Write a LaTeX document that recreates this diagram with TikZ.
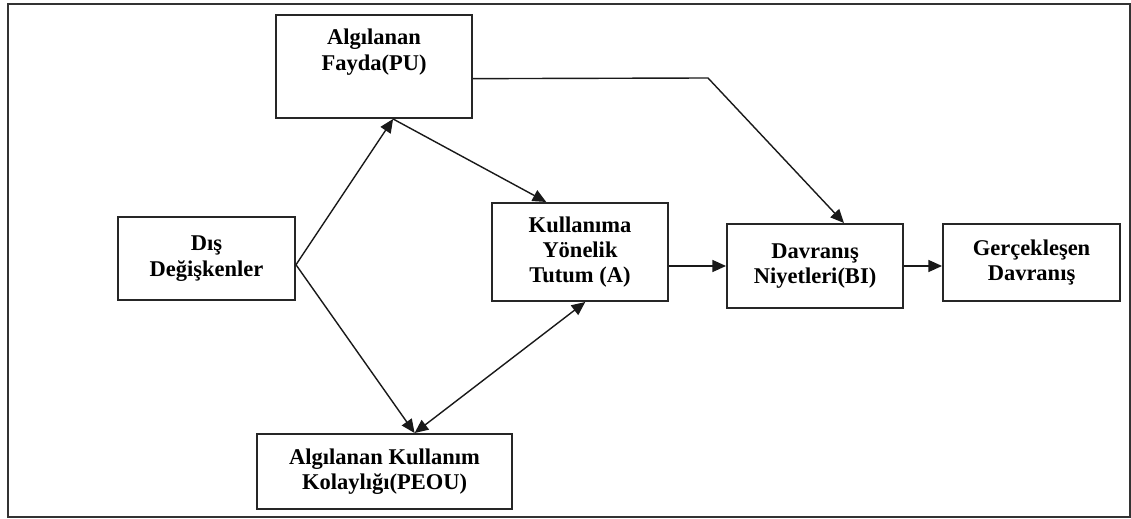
\documentclass[tikz,border=0pt]{standalone}
\usepackage{fontspec}
\setmainfont{Liberation Serif}
\usetikzlibrary{arrows.meta}

\tikzset{
    box/.style = {draw = black!85, line width = 1.4pt, align = center, inner sep = 0pt,
        font = \bfseries\fontsize{16}{18}\selectfont},
    boxtext/.style = {align = center, inner sep = 0pt, font = \bfseries\fontsize{16}{18}\selectfont},
    arr/.style = {line width = 1pt, draw = black!90, -{Triangle[length = 0.34cm, width = 0.3cm]}},
    dblarr/.style = {arr, {Triangle[length = 0.34cm, width = 0.3cm]}-{Triangle[length = 0.34cm, width = 0.3cm]}}
}

\begin{document}
\begin{tikzpicture}[x = 0.025cm, y = 0.025cm]
        \useasboundingbox (0, 0) rectangle (1131, 519);
        \draw[line width = 2.1pt, black!80] (8, 2) rectangle (1130, 515);
        \foreach \x/\y/\w/\h/\nm/\lab in {206.5/260.5/177/83/dis/{Dış\\Değişkenler},
                580/267/176/98/kul/{Kullanıma\\Yönelik\\Tutum (A)},
                815/253/176/84/dav/{Davranış\\Niyetleri(BI)},
                1031.5/256.5/177/77/ger/{Gerçekleşen\\Davranış},
                384.5/47.5/255/75/peou/{Algılanan Kullanım\\Kolaylığı(PEOU)}}{
            \node[box, minimum width = \w*0.025cm, minimum height = \h*0.025cm] (\nm) at (\x, \y) {\lab};
        }
        \node[box, minimum width = 196*0.025cm, minimum height = 103*0.025cm] (pu) at (374, 452.5) {};
        \node[boxtext] (putext) at (374, 467) {Algılanan\\Fayda(PU)};
        \coordinate (bend) at (708, 441);
        \draw[arr] (dis.-4) -- (pu.-70);
        \draw[arr] (dis.-4) -- (peou.52);
        \draw[arr] (pu.-70) -- (kul.124);
        \draw[dblarr] (peou.52) -- (kul.-84);
        \draw[arr] (pu.-7) -- (bend) -- (dav.56);
        \draw[arr] (kul.east |- dav.west) -- (dav.west);
        \draw[arr] (dav.east) -- (dav.east -| ger.west);
    \end{tikzpicture}
\end{document}
